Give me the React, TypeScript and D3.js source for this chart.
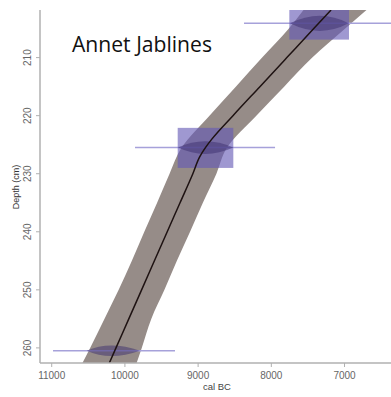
import React from "react";
import * as d3 from "d3";

// Age-depth model envelope (cal BC) by depth (cm)
const bandDepth = [201.8, 205, 210, 215, 220, 225.5, 230, 235, 240, 245, 250, 255, 260, 262.6];
const bandOlder = [7560, 7760, 8125, 8485, 8845, 9225, 9390, 9560, 9735, 9905, 10085, 10280, 10475, 10580];
const bandYounger = [6700, 6990, 7440, 7825, 8205, 8605, 8750, 8935, 9110, 9290, 9460, 9640, 9770, 9840];

// Mean model line
const lineDepth = [201.8, 205, 210, 215, 220, 224, 225.5, 227, 230, 235, 240, 245, 250, 255, 260, 262.6];
const lineAge = [7184, 7420, 7788, 8156, 8524, 8810, 8900, 8975, 9072, 9247, 9422, 9597, 9772, 9947, 10122, 10213];

// Dated samples
const sampleDepth = [204.1, 225.5, 260.5];
const rectDepthTop = [201.8, 222.1, null];
const rectDepthBottom = [206.9, 229.0, null];
const rectOlder = [7754, 9279, null];
const rectYounger = [6939, 8519, null];
const rangeOlder = [8373, 9862, 10982];
const rangeYounger = [6300, 7949, 9316];
const distOlder = [7745, 9275, 10522];
const distPeak = [7330, 8905, 10204];
const distYounger = [6945, 8520, 9794];
const distHalf = [1.3, 1.1, 0.9];

const xTicks = [11000, 10000, 9000, 8000, 7000];
const yTicks = [210, 220, 230, 240, 250, 260];

const W = 391;
const H = 397;

export default function App() {
  const x = d3.scaleLinear().domain([11160, 6365]).range([40, 391]);
  const y = d3.scaleLinear().domain([201.8, 262.6]).range([10, 363]);

  const bandData = bandDepth.map((d, i) => ({ d, o: bandOlder[i], yv: bandYounger[i] }));
  const area = d3
    .area<any>()
    .y((p) => y(p.d))
    .x0((p) => x(p.o))
    .x1((p) => x(p.yv))
    .curve(d3.curveMonotoneY);

  const lineData = lineDepth.map((d, i) => ({ d, a: lineAge[i] }));
  const line = d3
    .line<any>()
    .x((p) => x(p.a))
    .y((p) => y(p.d))
    .curve(d3.curveMonotoneY);

  const axisColor = "#b0b0b0";
  const tickText = "#666";

  return (
    <svg
      width={W}
      height={H}
      style={{ position: "absolute", left: 0, top: 0, background: "#fff" }}
      fontFamily="Liberation Sans, Arial, sans-serif"
    >
      <defs>
        <clipPath id="plot">
          <rect x={40} y={10} width={351} height={353} />
        </clipPath>
      </defs>
      <text
        x={72}
        y={52}
        fontFamily="Open Sans, sans-serif"
        fontSize={22}
        fill="#111"
        textLength={140}
        lengthAdjust="spacingAndGlyphs"
      >
        Annet Jablines
      </text>
      <g clipPath="url(#plot)">
        <path d={area(bandData) || ""} fill="#968c88" />
        {sampleDepth.map((d, i) => (
          <line
            key={"h" + i}
            x1={x(rangeOlder[i])}
            x2={x(rangeYounger[i])}
            y1={y(d)}
            y2={y(d)}
            stroke="#a6a1da"
            strokeWidth={1.5}
          />
        ))}
        {sampleDepth.map((d, i) =>
          rectOlder[i] == null ? null : (
            <rect
              key={"r" + i}
              x={x(rectOlder[i] as number)}
              y={y(rectDepthTop[i] as number)}
              width={x(rectYounger[i] as number) - x(rectOlder[i] as number)}
              height={y(rectDepthBottom[i] as number) - y(rectDepthTop[i] as number)}
              fill="rgb(100,88,180)"
              fillOpacity={0.62}
            />
          )
        )}
        {sampleDepth.map((d, i) => {
          const yc = y(d);
          const h = y(d + distHalf[i]) - yc;
          const l = x(distOlder[i]);
          const p = x(distPeak[i]);
          const r = x(distYounger[i]);
          return (
            <path
              key={"d" + i}
              d={`M${l},${yc} Q${p},${yc - 2 * h} ${r},${yc} Q${p},${yc + 2 * h} ${l},${yc} Z`}
              fill="rgb(60,45,110)"
              fillOpacity={0.5}
            />
          );
        })}
        <path d={line(lineData) || ""} fill="none" stroke="#1e1212" strokeWidth={1.5} />
      </g>
      {/* y axis */}
      <line x1={40} x2={40} y1={10} y2={363} stroke={axisColor} strokeWidth={1.5} />
      {yTicks.map((t) => (
        <g key={"yt" + t}>
          <line x1={36} x2={40} y1={y(t)} y2={y(t)} stroke={axisColor} strokeWidth={1} />
          <text
            transform={`translate(31,${y(t)}) rotate(-90)`}
            textAnchor="middle"
            fontSize={10}
            fill={tickText}
          >
            {t}
          </text>
        </g>
      ))}
      {/* x axis */}
      <line x1={40} x2={391} y1={363} y2={363} stroke={axisColor} strokeWidth={1.5} />
      {xTicks.map((t) => (
        <g key={"xt" + t}>
          <line x1={x(t)} x2={x(t)} y1={363} y2={367} stroke={axisColor} strokeWidth={1} />
          <text x={x(t)} y={379} textAnchor="middle" fontSize={10} fill={tickText}>
            {t}
          </text>
        </g>
      ))}
      <text x={217} y={390} textAnchor="middle" fontSize={9.5} fill="#444">
        cal BC
      </text>
      <text
        transform={`translate(19,187) rotate(-90)`}
        textAnchor="middle"
        fontSize={9}
        fill="#333"
      >
        Depth (cm)
      </text>
    </svg>
  );
}
